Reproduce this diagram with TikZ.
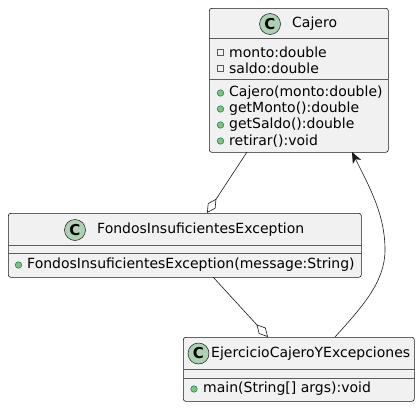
\documentclass[tikz,border=0pt]{standalone}
\usepackage{fontspec}
\setmainfont{DejaVu Sans}
\usetikzlibrary{arrows.meta}
\definecolor{boxfill}{HTML}{F1F1F1}
\definecolor{boxline}{HTML}{181818}
\definecolor{circfill}{HTML}{ADD1B2}
\definecolor{privred}{HTML}{C82930}
\definecolor{pubfill}{HTML}{84BE84}
\definecolor{publine}{HTML}{038048}
\tikzset{
  umlbox/.style={draw=boxline, fill=boxfill, rounded corners=2.5pt, line width=0.6pt, anchor=north west, inner sep=0pt},
  sepline/.style={draw=boxline!70, line width=0.5pt},
  ctitle/.style={anchor=west, inner sep=0pt, font=\fontsize{14}{16}\selectfont},
  member/.style={anchor=west, inner sep=0pt, font=\fontsize{14}{16}\selectfont},
  cicon/.style={circle, draw=boxline, fill=circfill, line width=0.5pt, minimum size=21pt, inner sep=0pt, font=\fontsize{15}{16}\selectfont\bfseries},
  privicon/.style={draw=privred, line width=0.6pt, minimum size=6pt, inner sep=0pt},
  pubicon/.style={circle, draw=publine, fill=pubfill, line width=0.5pt, minimum size=6.5pt, inner sep=0pt},
  conn/.style={draw=boxline, line width=0.6pt},
  agg/.style={-{Diamond[open, length=17pt, width=9pt, fill=white]}},
  nav/.style={-{Stealth[length=11pt, width=9pt, inset=3pt]}},
}
\begin{document}
\begin{tikzpicture}[x=1pt, y=-1pt]
\useasboundingbox (0,0) rectangle (420,407);
% Cajero
\node[umlbox, minimum width=179pt, minimum height=144pt] (caj) at (209,8) {};
\draw[sepline] (209,38) -- (388,38);
\draw[sepline] (209,79) -- (388,79);
\node[cicon] (cajc) at (270,24) {C};
\node[ctitle] (cajt) at (292,24) {Cajero};
\node[privicon] (ca1i) at (220.5,52) {};
\node[member] (ca1) at (229,52) {monto:double};
\node[privicon] (ca2i) at (220.5,68) {};
\node[member] (ca2) at (229,68) {saldo:double};
\node[pubicon] (cm1i) at (220.5,93) {};
\node[member] (cm1) at (229,93) {Cajero(monto:double)};
\node[pubicon] (cm2i) at (220.5,109) {};
\node[member] (cm2) at (229,109) {getMonto():double};
\node[pubicon] (cm3i) at (220.5,125) {};
\node[member] (cm3) at (229,125) {getSaldo():double};
\node[pubicon] (cm4i) at (220.5,141) {};
\node[member] (cm4) at (229,141) {retirar():void};
% Fondos
\node[umlbox, minimum width=353pt, minimum height=64pt] (fon) at (8,213) {};
\draw[sepline] (8,245) -- (361,245);
\draw[sepline] (8,253) -- (361,253);
\node[cicon] (fonc) at (75,230) {C};
\node[ctitle] (font) at (97,230) {FondosInsuficientesException};
\node[pubicon] (fm1i) at (18.5,265) {};
\node[member] (fm1) at (27,265) {FondosInsuficientesException(message:String)};
% Ejercicio
\node[umlbox, minimum width=231pt, minimum height=64pt] (eje) at (183,337) {};
\draw[sepline] (183,369) -- (414,369);
\draw[sepline] (183,378) -- (414,378);
\node[cicon] (ejec) at (198.5,353.5) {C};
\node[ctitle] (ejet) at (211,353.5) {EjercicioCajeroYExcepciones};
\node[pubicon] (em1i) at (194,389) {};
\node[member] (em1) at (203,389) {main(String[] args):void};
% connectors
\coordinate (p1) at (247,152);
\coordinate (p2) at (207,213);
\coordinate (p3) at (213,277);
\coordinate (p4) at (268,337);
\coordinate (p5) at (335,337);
\coordinate (p6) at (352,152);
\draw[conn, agg] (p1) -- (p2);
\draw[conn, agg] (p3) -- (p4);
\draw[conn, nav] (p5) .. controls (362,307) and (385,282) .. (385,250) .. controls (385,215) and (370,188) .. (p6);
\end{tikzpicture}
\end{document}
